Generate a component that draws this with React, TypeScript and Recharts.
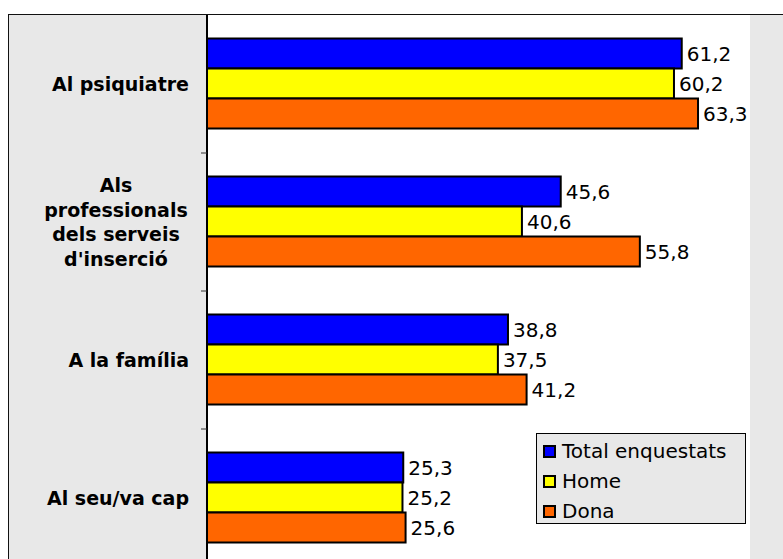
import React from "react";
import { BarChart, Bar, XAxis, YAxis, CartesianGrid, LabelList, Legend } from "recharts";

const categories = [
  "Al psiquiatre",
  "Als professionals dels serveis d'inserció",
  "A la família",
  "Al seu/va cap",
];
const seriesNames = ["Total enquestats", "Home", "Dona"];
const totalValues = [61.2, 45.6, 38.8, 25.3];
const homeValues = [60.2, 40.6, 37.5, 25.2];
const donaValues = [63.3, 55.8, 41.2, 25.6];
const seriesColors = ["#0000ff", "#ffff00", "#ff6600"];

const data = categories.map((name, i) => ({
  name,
  total: totalValues[i],
  home: homeValues[i],
  dona: donaValues[i],
}));

const FONT = "'DejaVu Sans', Verdana, sans-serif";
const CHART_W = 783;
const CHART_H = 580;
const MARGIN = { top: 15, right: 33, bottom: 13, left: 0 };
const GREY = "#e8e8e8";

const wrapLabel = (text: string, maxChars = 13): string[] => {
  const words = text.split(" ");
  const lines: string[] = [];
  let cur = "";
  for (const w of words) {
    const cand = cur ? cur + " " + w : w;
    if (cand.length > maxChars && cur) {
      lines.push(cur);
      cur = w;
    } else {
      cur = cand;
    }
  }
  if (cur) lines.push(cur);
  return lines;
};

const fmt = (v: any) => Number(v).toFixed(1).replace(".", ",");

const CategoryTick = (props: any) => {
  const { x, y, payload } = props;
  const half =
    payload && payload.offset
      ? payload.offset
      : (CHART_H - MARGIN.top - MARGIN.bottom) / categories.length / 2;
  const lines = wrapLabel(String(payload.value));
  const lineH = 24.5;
  const first = y - ((lines.length - 1) * lineH) / 2 + 7;
  const multi = lines.length > 1;
  return (
    <g>
      <text
        x={multi ? x - 91 : x - 18}
        y={first}
        textAnchor={multi ? "middle" : "end"}
        fontFamily={FONT}
        fontSize={19}
        fontWeight="bold"
        fill="#000"
      >
        {lines.map((l, i) => (
          <tspan key={i} x={multi ? x - 91 : x - 18} y={first + i * lineH}>
            {l}
          </tspan>
        ))}
      </text>
      <line x1={x - 6} x2={x} y1={y + half} y2={y + half} stroke="#333" strokeWidth={1} />
    </g>
  );
};

const LegendBox = () => (
  <div
    style={{
      border: "1px solid #000",
      background: GREY,
      width: 210,
      height: 91,
      boxSizing: "border-box",
      paddingTop: 2,
      fontFamily: FONT,
      fontSize: 20,
      color: "#000",
    }}
  >
    {seriesNames.map((n, i) => (
      <div key={n} style={{ display: "flex", alignItems: "center", height: 30, paddingLeft: 6 }}>
        <span
          style={{
            display: "inline-block",
            width: 9,
            height: 9,
            border: "2px solid #000",
            background: seriesColors[i],
            marginRight: 6,
          }}
        />
        <span style={{ lineHeight: "30px" }}>{n}</span>
      </div>
    ))}
  </div>
);

const labelStyle = { fontFamily: FONT, fontSize: 20, fill: "#000" };

export default function App() {
  return (
    <div
      style={{
        position: "absolute",
        left: 0,
        top: 0,
        width: 783,
        height: 559,
        overflow: "hidden",
        background: "#fff",
      }}
    >
      <div
        style={{
          position: "absolute",
          left: 8,
          top: 14,
          width: 900,
          height: 700,
          background: GREY,
          borderTop: "1px solid #111",
          borderLeft: "1px solid #111",
        }}
      />
      <div style={{ position: "absolute", left: 0, top: 0 }}>
        <BarChart
          width={CHART_W}
          height={CHART_H}
          data={data}
          layout="vertical"
          margin={MARGIN}
          barCategoryGap="17%"
          barGap={0}
        >
          <CartesianGrid fill="#fff" horizontal={false} vertical={false} stroke="none" />
          <XAxis type="number" domain={[0, 70]} hide />
          <YAxis
            type="category"
            dataKey="name"
            width={207}
            axisLine={{ stroke: "#000", strokeWidth: 2 }}
            tickLine={false}
            tickSize={0}
            tickMargin={0}
            tick={<CategoryTick />}
            interval={0}
          />
          <Legend
            layout="vertical"
            align="center"
            verticalAlign="middle"
            content={<LegendBox />}
            wrapperStyle={{ position: "absolute", left: 536, top: 433, width: 212, height: 93 }}
          />
          <Bar dataKey="total" name={seriesNames[0]} fill={seriesColors[0]} stroke="#000" strokeWidth={2} isAnimationActive={false}>
            <LabelList dataKey="total" position="right" offset={5} formatter={fmt} style={labelStyle} />
          </Bar>
          <Bar dataKey="home" name={seriesNames[1]} fill={seriesColors[1]} stroke="#000" strokeWidth={2} isAnimationActive={false}>
            <LabelList dataKey="home" position="right" offset={5} formatter={fmt} style={labelStyle} />
          </Bar>
          <Bar dataKey="dona" name={seriesNames[2]} fill={seriesColors[2]} stroke="#000" strokeWidth={2} isAnimationActive={false}>
            <LabelList dataKey="dona" position="right" offset={5} formatter={fmt} style={labelStyle} />
          </Bar>
        </BarChart>
      </div>
    </div>
  );
}
